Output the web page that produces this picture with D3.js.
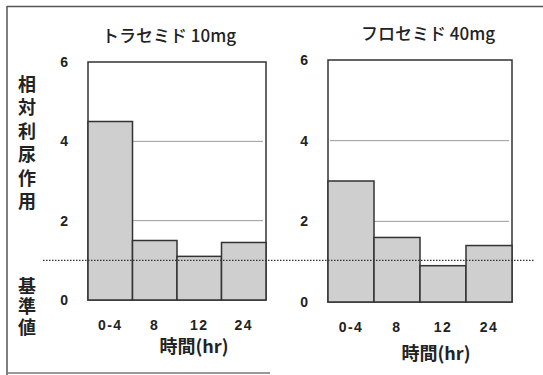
<!DOCTYPE html>
<html><head><meta charset="utf-8">
<script src="https://cdn.jsdelivr.net/npm/d3@7"></script>
<style>
body{margin:0;background:#fff;}
svg{display:block;}
text{font-family:"Noto Sans CJK JP","Noto Sans",sans-serif;fill:#222;}
</style></head>
<body>
<svg id="c" width="543" height="375"></svg>
<script>
const categories = ["0-4","8","12","24"];
const torasemide = [4.5, 1.5, 1.1, 1.45];
const furosemide = [3.0, 1.6, 0.9, 1.4];
const titles = ["トラセミド 10mg","フロセミド 40mg"];
const yTicks = [0,2,4,6];
const gridTicks = [2,4];
const refValue = 1;
const yLabelTop = "相対利尿作用";
const yLabelBottom = "基準値";
const xTitle = "時間(hr)";

const svg = d3.select("#c");

// outer frame
svg.append("line").attr("x1",7).attr("x2",543).attr("y1",6.5).attr("y2",6.5).attr("stroke","#555").attr("stroke-width",1.5);
svg.append("line").attr("x1",7).attr("x2",7).attr("y1",6).attr("y2",375).attr("stroke","#555").attr("stroke-width",1.5);
svg.append("line").attr("x1",7).attr("x2",270).attr("y1",373).attr("y2",373).attr("stroke","#777").attr("stroke-width",1.5);

const panels = [
  {values: torasemide, title: titles[0], x0:88, x1:266, top:62, bottom:300, tickX:62, titleX:169, titleY:42, xlabX:194, xlabY:353},
  {values: furosemide, title: titles[1], x0:328, x1:512, top:60, bottom:302, tickX:302, titleX:428, titleY:40, xlabX:436, xlabY:360}
];

let refY = null;
panels.forEach((p,i)=>{
  const x = d3.scaleBand().domain(categories).range([p.x0,p.x1]).padding(0);
  const y = d3.scaleLinear().domain([0,6]).range([p.bottom,p.top]);
  const g = svg.append("g");
  g.selectAll(".grid").data(gridTicks).join("line")
    .attr("x1",p.x0+2).attr("x2",p.x1-3)
    .attr("y1",d=>y(d)).attr("y2",d=>y(d))
    .attr("stroke","#999").attr("stroke-width",1);
  g.append("rect").attr("x",p.x0).attr("y",p.top).attr("width",p.x1-p.x0).attr("height",p.bottom-p.top)
    .attr("fill","none").attr("stroke","#333").attr("stroke-width",1.5);
  g.selectAll(".bar").data(p.values).join("rect")
    .attr("x",(d,j)=>x(categories[j])).attr("width",x.bandwidth())
    .attr("y",d=>y(d)).attr("height",d=>y(0)-y(d))
    .attr("fill","#cfcfcf").attr("stroke","#333").attr("stroke-width",1.5);
  const yAxis = d3.axisLeft(y).tickValues(yTicks).tickSize(0).tickFormat(d3.format("d"));
  const ya = g.append("g").attr("transform",`translate(${p.tickX+6},0)`).call(yAxis);
  ya.select(".domain").remove();
  ya.selectAll("text").attr("x",0).attr("text-anchor","end").attr("font-size",14).attr("font-weight","bold")
    .style("font-family","'Liberation Sans',Arial,sans-serif").attr("fill","#222");
  const xAxis = d3.axisBottom(x).tickSize(0);
  const xa = g.append("g").attr("transform",`translate(0,${p.bottom})`).call(xAxis);
  xa.select(".domain").remove();
  xa.selectAll("text").attr("dy",0).attr("y",30).attr("font-size",14).attr("font-weight","bold")
    .attr("letter-spacing","1.5px").attr("fill","#222")
    .style("font-family","'Liberation Sans',Arial,sans-serif");
  g.append("text").attr("x",p.titleX).attr("y",p.titleY).attr("text-anchor","middle")
    .attr("font-size",17).attr("font-weight",500).text(p.title);
  g.append("text").attr("x",p.xlabX).attr("y",p.xlabY).attr("text-anchor","middle")
    .attr("font-size",18).attr("font-weight","bold").text(xTitle);
  if(i===0) refY = y(refValue);
});

svg.append("line").attr("x1",43).attr("x2",534).attr("y1",refY).attr("y2",refY)
  .attr("stroke","#333").attr("stroke-width",1.3).attr("stroke-dasharray","1.5,1.5");

// vertical y-axis labels
svg.append("text").attr("x",27).attr("y",75)
  .style("writing-mode","vertical-rl").style("letter-spacing","5.5px")
  .attr("font-size",18).attr("font-weight","bold").text(yLabelTop);
svg.append("text").attr("x",27).attr("y",277)
  .style("writing-mode","vertical-rl").style("letter-spacing","2.5px")
  .attr("font-size",18).attr("font-weight","bold").text(yLabelBottom);
</script>
</body></html>
